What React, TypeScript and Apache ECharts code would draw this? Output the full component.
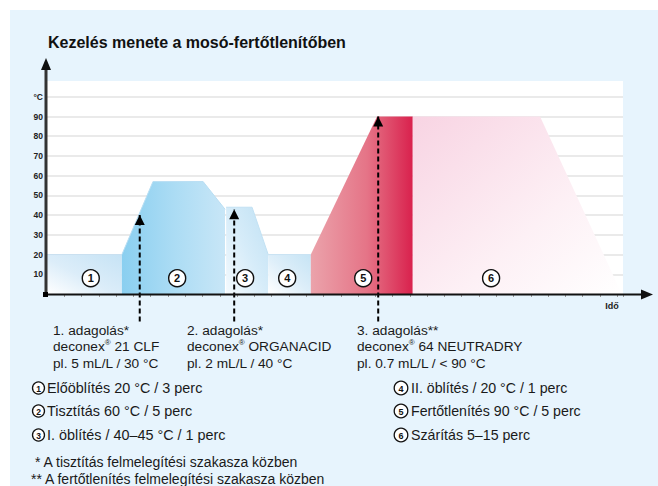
import React, { useEffect, useRef } from 'react';
import * as echarts from 'echarts';

// ---- data ----
const yMax = 108;
const yUnitLabel = '°C';
const stage1: number[][] = [[0, 20], [13, 20]];
const stage2: number[][] = [[13, 20], [18.4, 57], [27.1, 57], [30.9, 43]];
const stage3: number[][] = [[31.1, 44], [35.6, 44], [38.4, 20]];
const stage4: number[][] = [[38.4, 20], [45.8, 20]];
const stage5: number[][] = [[45.8, 20], [57.3, 90], [63.5, 90]];
const stage6: number[][] = [[63.5, 90], [85.6, 90], [99.8, 0]];
const doseX = [16.1, 32.5, 57.5];
const doseTop = [40, 43, 90];
const doseBottom = -14;
const badgeX = [7.6, 22.6, 34.4, 41.7, 54.9, 77.1];
const badgeY = 8;
const badgeNames = ['1', '2', '3', '4', '5', '6'];
const doseTitles = ['1. adagolás*', '2. adagolás*', '3. adagolás**'];
const doseProducts = ['21 CLF', 'ORGANACID', '64 NEUTRADRY'];
const doseAmounts = ['pl. 5 mL/L / 30 °C', 'pl. 2 mL/L / 40 °C', 'pl. 0.7 mL/L / < 90 °C'];
const stepLabels = [
  'Előöblítés 20 °C / 3 perc',
  'Tisztítás 60 °C / 5 perc',
  'I. öblítés / 40–45 °C / 1 perc',
  'II. öblítés / 20 °C / 1 perc',
  'Fertőtlenítés 90 °C / 5 perc',
  'Szárítás 5–15 perc',
];
const footnotes = ['* A tisztítás felmelegítési szakasza közben', '** A fertőtlenítés felmelegítési szakasza közben'];
const titleText = 'Kezelés menete a mosó-fertőtlenítőben';
const xAxisName = 'Idő';

const W = 658;
const H = 486;
const FF = '"Liberation Sans", Arial, Helvetica, sans-serif';

function lg(x: number, y: number, x2: number, y2: number, stops: [number, string][]) {
  return new echarts.graphic.LinearGradient(x, y, x2, y2, stops.map(([offset, color]) => ({ offset, color })));
}

function area(data: number[][], fill: any, lineColor: string, lineWidth: number) {
  return {
    type: 'line',
    data,
    symbol: 'none',
    showSymbol: false,
    silent: true,
    z: 2,
    lineStyle: { color: lineColor, width: lineWidth },
    areaStyle: { color: fill, opacity: 1 },
  };
}

export default function App() {
  const ref = useRef<HTMLDivElement>(null);
  useEffect(() => {
    document.body.style.margin = '0';
    const chart = echarts.init(ref.current!, null, { renderer: 'svg', width: W, height: H });

    const series: any[] = [
      area(stage1, lg(0, 1, 1, 0, [[0, '#ffffff'], [0.45, '#dcedf9'], [1, '#c6e3f5']]), '#c9e0f0', 1),
      area(stage2, lg(0, 0, 1, 0, [[0, '#8acff0'], [0.5, '#abdcf4'], [1, '#c8e6f7']]), '#b9def3', 1),
      area(stage3, lg(0, 1, 1, 0, [[0, '#f4fafe'], [0.5, '#d6ecf9'], [1, '#c0e1f4']]), '#c2e1f3', 1),
      area(stage4, lg(0, 1, 1, 0, [[0, '#ffffff'], [0.5, '#ddeef9'], [1, '#c6e4f5']]), '#c9e3f3', 1),
      area(stage5, lg(0, 0, 1, 0, [[0, '#eba3ab'], [0.55, '#e57487'], [1, '#d9214d']]), '#e48a98', 0),
      area(stage6, lg(0, 0, 1, 1, [[0, '#f8d4e3'], [0.6, '#fdf0f5'], [1, '#ffffff']]), '#f8e0ea', 0),
    ];
    doseX.forEach((x, i) => {
      series.push({
        type: 'line',
        clip: false,
        z: 5,
        silent: true,
        showSymbol: true,
        showAllSymbol: true,
        symbol: 'triangle',
        symbolSize: [10, 10],
        symbolOffset: [0, '50%'],
        itemStyle: { color: '#000' },
        lineStyle: { color: '#000', width: 2, type: [5, 3] },
        data: [
          { value: [x, doseBottom], symbol: 'none' },
          { value: [x, doseTop[i]] },
        ],
      });
    });
    series.push({
      type: 'scatter',
      z: 6,
      silent: true,
      symbol: 'circle',
      symbolSize: 17,
      data: badgeX.map((x, i) => ({ value: [x, badgeY], name: badgeNames[i] })),
      itemStyle: { color: '#ffffff', borderColor: '#111', borderWidth: 1.4, opacity: 1 },
      label: {
        show: true,
        position: 'inside',
        formatter: (p: any) => p.name,
        fontFamily: FF,
        fontWeight: 'bold',
        fontSize: 11,
        color: '#111',
      },
    });

    const graphics: any[] = [
      { type: 'rect', z: -10, shape: { x: 10, y: 10, width: W - 10, height: H - 10 }, style: { fill: '#e7f4fd' } },
      { type: 'rect', z: -9, shape: { x: 47, y: 81, width: 576, height: 213 }, style: { fill: '#ffffff' } },
      // axes
      { type: 'line', z: 20, shape: { x1: 46, y1: 296, x2: 46, y2: 66 }, style: { stroke: '#333', lineWidth: 3 } },
      { type: 'polygon', z: 20, shape: { points: [[41, 70], [51, 70], [46, 58]] }, style: { fill: '#111' } },
      { type: 'line', z: 20, shape: { x1: 44, y1: 294.5, x2: 644, y2: 294.5 }, style: { stroke: '#111', lineWidth: 2 } },
      { type: 'polygon', z: 20, shape: { points: [[641, 289.5], [641, 299.5], [653, 294.5]] }, style: { fill: '#111' } },
      { type: 'rect', z: 21, shape: { x: 43, y: 292, width: 5, height: 5 }, style: { fill: '#000' } },
      {
        type: 'text', z: 20,
        style: { x: 612, y: 306, text: xAxisName, font: `bold 9px ${FF}`, fill: '#222', align: 'center', verticalAlign: 'middle' },
      },
      {
        type: 'text', z: 20,
        style: { x: 48, y: 42, text: titleText, font: `bold 16px ${FF}`, fill: '#111', align: 'left', verticalAlign: 'middle' },
      },
    ];

    const doseTextX = [53, 187, 357];
    doseTitles.forEach((t, i) => {
      graphics.push({
        type: 'text', z: 20,
        style: {
          x: doseTextX[i], y: 322.5,
          text: `{a|${t}}\n{a|deconex}{s|®}{a| ${doseProducts[i]}}\n{a|${doseAmounts[i]}}`,
          rich: {
            a: { fontFamily: FF, fontSize: 13.7, lineHeight: 16.3, fill: '#1a1a1a', color: '#1a1a1a' },
            s: { fontFamily: FF, fontSize: 8, lineHeight: 10, verticalAlign: 'top', fill: '#1a1a1a', color: '#1a1a1a' },
          },
          align: 'left', verticalAlign: 'top',
        },
      });
    });

    const rowY = [388, 411, 435];
    stepLabels.forEach((label, i) => {
      const col = i < 3 ? 0 : 1;
      const cx = col === 0 ? 38.5 : 401;
      const r = col === 0 ? 6 : 6.8;
      const tx = col === 0 ? 47 : 411;
      const y = rowY[i % 3];
      graphics.push(
        { type: 'circle', z: 20, shape: { cx, cy: y, r }, style: { fill: '#fff', stroke: '#111', lineWidth: 1.3 } },
        { type: 'text', z: 21, style: { x: cx, y: y + 0.5, text: badgeNames[i], font: `bold ${col === 0 ? 8.5 : 9}px ${FF}`, fill: '#111', align: 'center', verticalAlign: 'middle' } },
        { type: 'text', z: 20, style: { x: tx, y, text: label, font: `${col === 0 ? 14.4 : 14.2}px ${FF}`, fill: '#1a1a1a', align: 'left', verticalAlign: 'middle' } },
      );
    });

    const footX = [35, 31];
    const footY = [462, 479];
    footnotes.forEach((f, i) => {
      graphics.push({
        type: 'text', z: 20,
        style: { x: footX[i], y: footY[i], text: f, font: `14px ${FF}`, fill: '#1a1a1a', align: 'left', verticalAlign: 'middle' },
      });
    });

    chart.setOption({
      animation: false,
      backgroundColor: '#ffffff',
      grid: { left: 47, right: 35, top: 81, bottom: 192, containLabel: false },
      xAxis: {
        type: 'value', min: 0, max: 100, interval: 3,
        axisLine: { show: false },
        axisTick: { show: true, length: 3, lineStyle: { color: '#999', width: 1 } },
        axisLabel: { show: false },
        splitLine: { show: false },
      },
      yAxis: {
        type: 'value', min: 0, max: yMax, interval: 10,
        axisLine: { show: false },
        axisTick: { show: false },
        axisLabel: {
          margin: 4,
          fontFamily: FF, fontSize: 8.5, fontWeight: 'bold', color: '#222',
          formatter: (v: number) => (v === 100 ? yUnitLabel : v > 0 && v < 100 ? String(v) : ''),
        },
        splitLine: { show: true, showMinLine: false, showMaxLine: false, lineStyle: { color: '#e3e3e3', width: 1.5 } },
      },
      graphic: graphics,
      series,
    });
    return () => chart.dispose();
  }, []);
  return <div ref={ref} style={{ width: W, height: H }} />;
}
